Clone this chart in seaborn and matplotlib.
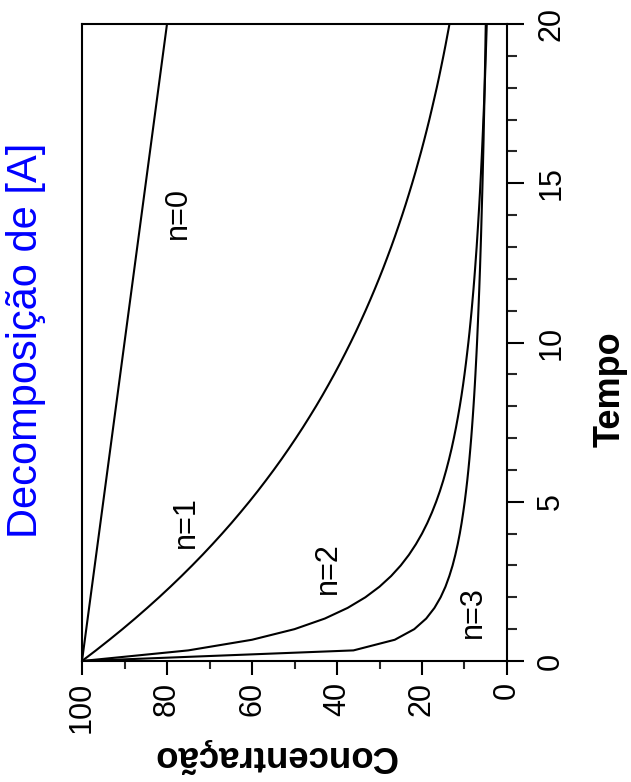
import matplotlib
matplotlib.use("Agg")
import matplotlib.pyplot as plt
import seaborn as sns
import pandas as pd
from matplotlib.ticker import MultipleLocator

# ---- data ----
tempo = [0, 0.333, 0.667, 1, 1.333, 1.667, 2, 2.333, 2.667, 3, 3.333, 3.667, 4, 4.333, 4.667,
         5, 5.333, 5.667, 6, 6.333, 6.667, 7, 7.333, 7.667, 8, 8.333, 8.667, 9, 9.333, 9.667,
         10, 10.333, 10.667, 11, 11.333, 11.667, 12, 12.333, 12.667, 13, 13.333, 13.667, 14,
         14.333, 14.667, 15, 15.333, 15.667, 16, 16.333, 16.667, 17, 17.333, 17.667, 18,
         18.333, 18.667, 19, 19.333, 19.667, 20]

tempo_n0 = [0, 20]
conc_n0 = [100, 80]

conc_n1 = [100, 96.72, 93.55, 90.48, 87.52, 84.65, 81.87, 79.19, 76.59, 74.08, 71.65, 69.30,
           67.03, 64.83, 62.71, 60.65, 58.66, 56.74, 54.88, 53.08, 51.34, 49.66, 48.03, 46.46,
           44.93, 43.46, 42.04, 40.66, 39.33, 38.04, 36.79, 35.58, 34.42, 33.29, 32.20, 31.14,
           30.12, 29.13, 28.18, 27.25, 26.36, 25.50, 24.66, 23.85, 23.07, 22.31, 21.58, 20.88,
           20.19, 19.53, 18.89, 18.27, 17.68, 17.10, 16.53, 15.99, 15.47, 14.96, 14.47, 14.00,
           13.53]

conc_n2 = [100, 75, 60, 50, 42.86, 37.5, 33.33, 30, 27.27, 25, 23.08, 21.43, 20, 18.75,
           17.65, 16.67, 15.79, 15, 14.29, 13.64, 13.04, 12.5, 12, 11.54, 11.11, 10.71, 10.34,
           10, 9.68, 9.38, 9.09, 8.82, 8.57, 8.33, 8.11, 7.89, 7.69, 7.5, 7.32, 7.14, 6.98,
           6.82, 6.67, 6.52, 6.38, 6.25, 6.12, 6, 5.88, 5.77, 5.66, 5.56, 5.45, 5.36, 5.26,
           5.17, 5.08, 5, 4.92, 4.84, 4.76]

conc_n3 = [100, 36.12, 26.41, 21.82, 19.01, 17.07, 15.62, 14.48, 13.57, 12.80, 12.16, 11.60,
           11.11, 10.68, 10.30, 9.95, 9.64, 9.35, 9.09, 8.85, 8.63, 8.42, 8.23, 8.05, 7.88,
           7.72, 7.57, 7.43, 7.30, 7.17, 7.05, 6.94, 6.83, 6.73, 6.63, 6.53, 6.44, 6.35, 6.27,
           6.19, 6.11, 6.04, 5.97, 5.90, 5.83, 5.76, 5.70, 5.64, 5.58, 5.52, 5.47, 5.42, 5.36,
           5.31, 5.26, 5.22, 5.17, 5.12, 5.08, 5.04, 4.99]

rotulos = ["n=0", "n=1", "n=2", "n=3"]
rotulo_conc = [77.4, 75.5, 42.2, 8.0]
rotulo_tempo = [14.07, 4.36, 2.92, 1.54]

x_ticks = [100, 80, 60, 40, 20, 0]
y_ticks = [0, 5, 10, 15, 20]

titulo = "Decomposição de [A]"
xlabel = "Concentração"
ylabel = "Tempo"

# ---- figure ----
sns.set_theme(style="white")
plt.rcParams["font.family"] = ["Liberation Sans", "DejaVu Sans"]

W, H = 631, 782
fig = plt.figure(figsize=(W / 100, H / 100), dpi=100)
L, R, T, B = 82, 507, 24, 661
ax = fig.add_axes([L / W, 1 - B / H, (R - L) / W, (B - T) / H])

series = [(tempo_n0, conc_n0), (tempo, conc_n1), (tempo, conc_n2), (tempo, conc_n3)]
for t, c in series:
    df = pd.DataFrame({"conc": c, "tempo": t})
    sns.lineplot(data=df, x="conc", y="tempo", sort=False, estimator=None,
                 color="black", linewidth=1.5, ax=ax)

ax.set_xlim(100, 0)
ax.set_ylim(0, 20)
ax.set_xlabel("")
ax.set_ylabel("")

for s in ax.spines.values():
    s.set_visible(True)
    s.set_color("black")
    s.set_linewidth(1.5)

ax.yaxis.tick_right()
ax.xaxis.tick_bottom()
ax.set_xticks(x_ticks)
ax.set_yticks(y_ticks)
ax.xaxis.set_minor_locator(MultipleLocator(10))
ax.yaxis.set_minor_locator(MultipleLocator(1))

ax.tick_params(axis="x", which="major", direction="out", length=10, width=1.5,
               labelsize=22, pad=5, colors="black", bottom=True)
ax.tick_params(axis="x", which="minor", direction="out", length=6, width=1.5, bottom=True)
ax.tick_params(axis="y", which="major", direction="out", length=12, width=1.5,
               labelsize=22, pad=9, colors="black", right=True, left=False)
ax.tick_params(axis="y", which="minor", direction="out", length=7, width=1.5,
               right=True, left=False)

ax.set_xticklabels([str(v) for v in x_ticks], rotation=90, ha="center", va="top")
ax.set_yticklabels([str(v) for v in y_ticks], rotation=90, ha="left", va="center")

for lab, c, t in zip(rotulos, rotulo_conc, rotulo_tempo):
    ax.text(c, t, lab, rotation=90, ha="center", va="center", fontsize=22, color="black")

fig.text(275 / W, 1 - 756 / H, xlabel, rotation=180, ha="center", va="center",
         fontsize=26.4, fontweight="bold", color="black")
fig.text(610 / W, 1 - 389 / H, ylabel, rotation=90, ha="center", va="center",
         fontsize=26, fontweight="bold", color="black")
fig.text(26 / W, 1 - 340 / H, titulo, rotation=90, ha="center", va="center",
         fontsize=30, color="#0000FF")

fig.savefig("out.png", dpi=100)
